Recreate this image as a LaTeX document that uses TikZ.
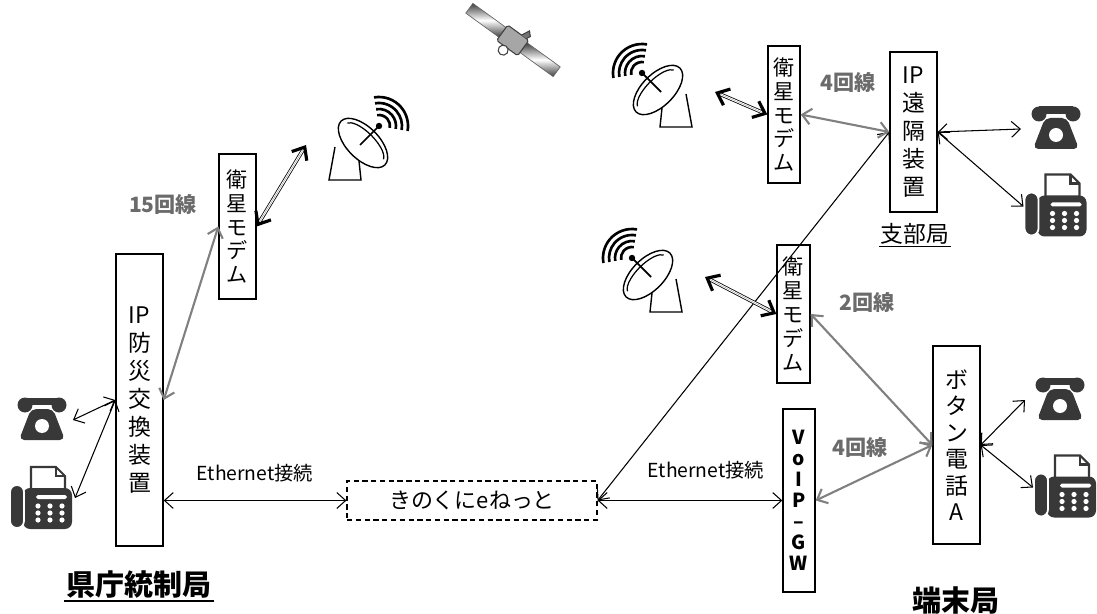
\documentclass[tikz,border=0pt]{standalone}
\usepackage{fontspec}
\setmainfont{Noto Sans CJK JP}
\usetikzlibrary{arrows.meta}

\tikzset{
  barb/.tip={Straight Barb[length=5pt,width=9pt]},
  heavybarb/.tip={Straight Barb[length=6pt,width=10pt,line width=1.8pt]},
  devbox/.style={draw, line width=0.8pt, align=center, inner sep=0pt,
    font=\fontsize{13}{16}\selectfont},
  modembox/.style={devbox, font=\fontsize{12}{13.6}\selectfont},
  link/.style={barb-barb, line width=0.6pt},
  trunk/.style={barb-barb, line width=1.2pt, draw=black!50},
  radio/.style={double=white, double distance=1.2pt, line width=0.45pt,
    shorten <=2pt, shorten >=2pt},
  radiotip/.style={heavybarb-heavybarb, line width=0.01pt},
  lines/.style={font=\bfseries\fontsize{12}{14}\selectfont, text=black!58},
  site/.style={font=\bfseries\fontsize{16.5}{18}\selectfont, inner sep=1pt},
  icon/.style={fill=black!78},
  % telephone
  phone/.pic={
    \fill[icon] (-17,-13) circle (7.5) (17,-13) circle (7.5);
    \fill[icon] (-17,-20.5) rectangle (17,-13);
    \fill[icon, rounded corners=3pt] (-11,-9) -- (11,-9) -- (23,22) -- (-23,22) -- cycle;
    \fill[white] (0,8) circle (7);
    \coordinate (-w) at (-35,2);
    \coordinate (-e) at (31,2);
  },
  % fax machine
  fax/.pic={
    \draw[draw=black!78, fill=white, line width=1.2pt] (-10,-33) -- (15,-33) -- (24,-24) -- (24,-8) -- (-10,-8) -- cycle;
    \draw[draw=black!78, line width=1.2pt] (15,-33) -- (15,-24) -- (24,-24);
    \fill[icon, rounded corners=4pt] (-18,-12) rectangle (31,29);
    \filldraw[icon, draw=white, line width=1pt, rounded corners=4pt] (-31,-15) rectangle (-17,28);
    \fill[white, rounded corners=1pt] (-5,-5) rectangle (26,-1);
    \foreach \i in {-3,9,21}
      \foreach \j in {6,13,20}
        \fill[white] (\i,\j) circle (2.6);
    \coordinate (-w) at (-32,-1);
    \coordinate (-e) at (34,-2);
  },
  % parabolic antenna
  dish/.pic={
    \draw[line width=0.8pt, fill=white] (-28,4) -- (-34,37) -- (-2,37) -- (-4,18);
    \draw[line width=0.8pt, fill=white, rotate=-45] (0,0) ellipse (31 and 16);
    \draw[line width=0.7pt, rotate=-45] (26,-3) arc[start angle=-10, end angle=-170, x radius=26, y radius=10];
    \draw[line width=1pt] (-3,2) -- (16,-17);
    \fill (16,-17) circle (3.2);
    \foreach \r in {11,17,23,29}
      \draw[line width=1.5pt] (16,-17) ++(-100:\r) arc[start angle=-100, end angle=10, radius=\r];
    \coordinate (-port) at (-57,2);
  },
  % satellite
  satellite/.pic={
    \shade[top color=black!75, bottom color=black!75, middle color=white] (-54,-6) rectangle (-13,6);
    \shade[top color=black!75, bottom color=black!75, middle color=white] (13,-6) rectangle (54,6);
    \draw[black!60, line width=0.4pt] (-54,-6) rectangle (-13,6) (13,-6) rectangle (54,6);
    \filldraw[fill=black!35, draw=black!75, line width=0.6pt, rounded corners=1pt] (-13,-9) rectangle (13,10);
    \filldraw[fill=white, draw=black!75, line width=0.6pt] (-2,14) circle (5);
    \filldraw[fill=black!55, draw=black!75, line width=0.6pt] (4,-9) -- (8,-17) -- (12,-13) -- (10,-9);
    \coordinate (-c) at (0,0);
  },
}

\begin{document}
\begin{tikzpicture}[x=0.02cm, y=-0.02cm]
\useasboundingbox (0,0) rectangle (1097,614);

% icons
\pic (sat) [rotate=-36] at (513,40) {satellite};
\pic (dishL) at (363,143) {dish};
\pic (dishT) [xscale=-1] at (658,90) {dish};
\pic (dishM) [xscale=-1] at (648,275) {dish};
\pic (phL) at (42,418) {phone};
\pic (faxL) at (41,500) {fax};
\pic (phT) at (1056,127) {phone};
\pic (faxT) at (1055.5,207.5) {fax};
\pic (phB) at (1060,398) {phone};
\pic (faxB) at (1065,488.5) {fax};

% devices
\node[devbox, minimum width=0.94cm, minimum height=5.84cm] (ipsw) at (139.5,400) {IP\\防\\災\\交\\換\\装\\置};
\node[modembox, minimum width=0.74cm, minimum height=2.9cm] (modemL) at (237.5,226.5) {衛\\星\\モ\\デ\\ム};
\node[modembox, minimum width=0.64cm, minimum height=2.74cm] (modemT) at (784,114.5) {衛\\星\\モ\\デ\\ム};
\node[modembox, minimum width=0.66cm, minimum height=2.76cm] (modemM) at (793.5,314) {衛\\星\\モ\\デ\\ム};
\node[devbox, minimum width=0.94cm, minimum height=3.2cm] (ipRemote) at (913.5,132) {IP\\遠\\隔\\装\\置};
\node[devbox, minimum width=0.94cm, minimum height=3.96cm, font=\fontsize{13}{15.1}\selectfont] (btn) at (956.5,445) {ボ\\タ\\ン\\電\\話\\A};
\node[devbox, minimum width=0.64cm, minimum height=3.66cm, font=\bfseries\fontsize{11}{12}\selectfont] (voipgw) at (799,500.5) {V\\o\\I\\P\\–\\G\\W};
\node[draw, dash pattern=on 3pt off 2pt, line width=0.7pt, minimum width=5cm, minimum height=0.78cm,
  font=\fontsize{12.5}{14}\selectfont] (kinokuni) at (472,500.5) {きのくにeねっと};

% labels
\node[lines] (l15) at (163,204) {15回線};
\node[lines] (l4t) at (848,82) {4回線};
\node[lines] (l2) at (867,302) {2回線};
\node[lines] (l4b) at (860,447) {4回線};
\node[font=\fontsize{11}{13}\selectfont] (ethL) at (255,473) {Ethernet接続};
\node[font=\fontsize{11}{13}\selectfont] (ethR) at (706,470) {Ethernet接続};
\node[site] (hq) at (139,585) {県庁統制局};
\node[font=\fontsize{13}{15}\selectfont, inner sep=1pt] (branch) at (915,234) {支部局};
\node[site] (term) at (956,600) {端末局};
\draw[line width=1pt] (hq.south west) -- (hq.south east);
\draw[line width=0.8pt] (branch.south west) -- (branch.south east);
\draw[line width=1pt] (term.south west) -- (term.south east);

% connections
\draw[trunk] (ipsw.east) -- (modemL.west);
\draw[radio] (modemL.east) -- (dishL-port);
\draw[radiotip] (modemL.east) -- (dishL-port);
\draw[link] (phL-e) -- (ipsw.west);
\draw[link] (faxL-e) -- (ipsw.west);
\draw[link] (ipsw.east |- kinokuni.west) -- (kinokuni.west);
\draw[link] (kinokuni.east) -- (voipgw.west);
\draw[link] (kinokuni.east) -- (ipRemote.west);
\draw[radio] (dishT-port) -- (modemT.west);
\draw[radiotip] (dishT-port) -- (modemT.west);
\draw[trunk] (modemT.east) -- (ipRemote.west);
\draw[link] (ipRemote.east) -- (phT-w);
\draw[link] (ipRemote.east) -- (faxT-w);
\draw[radio] (dishM-port) -- (modemM.west);
\draw[radiotip] (dishM-port) -- (modemM.west);
\draw[trunk] (modemM.east) -- (btn.west);
\draw[trunk] (voipgw.east) -- (btn.west);
\draw[link] (btn.east) -- (phB-w);
\draw[link] (btn.east) -- (faxB-w);
\end{tikzpicture}
\end{document}
